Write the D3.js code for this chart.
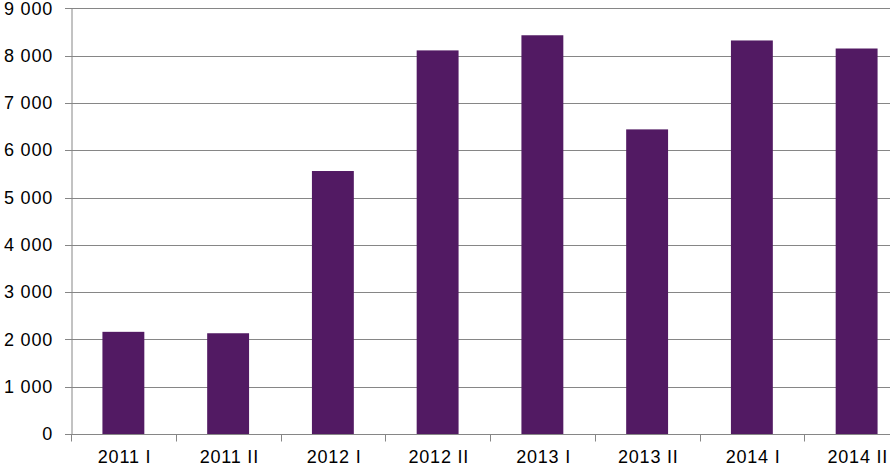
<!DOCTYPE html>
<html><head><meta charset="utf-8">
<script src="https://cdn.jsdelivr.net/npm/d3@7/dist/d3.min.js"></script>
<style>body{margin:0;background:#fff;}svg{display:block;}</style>
</head><body>
<svg id="c" width="890" height="466"></svg>
<script>
const categories = ["2011 I","2011 II","2012 I","2012 II","2013 I","2013 II","2014 I","2014 II"];
const values = [2160, 2130, 5560, 8110, 8430, 6440, 8320, 8150];
const yTicks = [0,1000,2000,3000,4000,5000,6000,7000,8000,9000];

const svg = d3.select("#c");
const mLeft = 71, mRight = 909, mTop = 8.3, mBottom = 434;
const x = d3.scaleBand().domain(categories).range([mLeft, mRight]).paddingInner(0.6).paddingOuter(0.3);
const xb = d3.scaleBand().domain(categories).range([mLeft, mRight]);
const y = d3.scaleLinear().domain([0, 9000]).range([mBottom, mTop]);
const fmt = v => d3.format(",")(v).replace(/,/g, " ");
const font = "'Liberation Sans', Arial, sans-serif";
const grey = "#868686";

// gridlines
svg.append("g").selectAll("line").data(yTicks).join("line")
  .attr("x1", mLeft - 6).attr("x2", 890)
  .attr("y1", d => Math.round(y(d)) + 0.5).attr("y2", d => Math.round(y(d)) + 0.5)
  .attr("stroke", grey).attr("stroke-width", 1);

// y axis
const ya = svg.append("g").attr("transform", `translate(${mLeft + 0.5},0)`)
  .call(d3.axisLeft(y).tickValues(yTicks).tickFormat(fmt).tickSize(0).tickPadding(18.5));
ya.select(".domain").attr("stroke", grey);
ya.selectAll("text").attr("font-family", font).attr("font-size", 18)
  .attr("letter-spacing", 0.8).attr("fill", "#000");

// bars
svg.append("g").selectAll("rect").data(values).join("rect")
  .attr("x", (d, i) => x(categories[i]))
  .attr("width", x.bandwidth())
  .attr("y", d => y(d))
  .attr("height", d => mBottom - y(d))
  .attr("fill", "#521a63");

// x axis
const xa = svg.append("g").attr("transform", `translate(0,${mBottom + 0.5})`);
xa.append("line").attr("x1", mLeft).attr("x2", 890).attr("stroke", grey);
xa.selectAll("line.t").data(categories.concat(["end"])).join("line").attr("class","t")
  .attr("x1", (d, i) => Math.round(mLeft + i * xb.step()) + 0.5)
  .attr("x2", (d, i) => Math.round(mLeft + i * xb.step()) + 0.5)
  .attr("y1", 0).attr("y2", 7).attr("stroke", grey);
xa.selectAll("text").data(categories).join("text")
  .attr("x", d => xb(d) + xb.bandwidth() / 2 + 1.2)
  .attr("y", 28.5)
  .attr("text-anchor", "middle")
  .attr("font-family", font).attr("font-size", 18)
  .attr("letter-spacing", 0.8).attr("fill", "#000")
  .text(d => d);
</script>
</body></html>
